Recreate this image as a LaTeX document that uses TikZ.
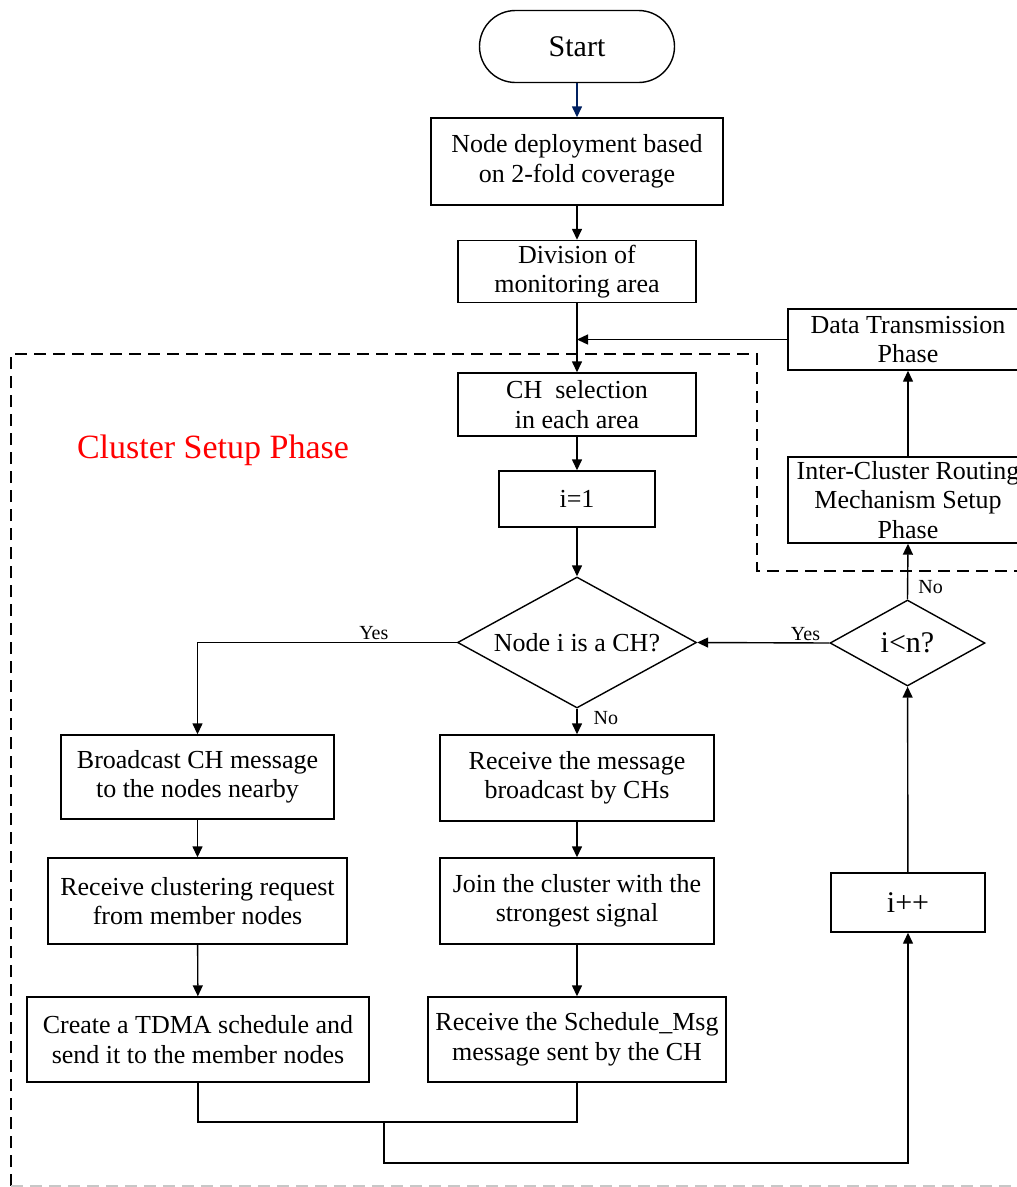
\documentclass[tikz,border=0pt]{standalone}
\usepackage{fontspec}
\setmainfont{Liberation Serif}
\usetikzlibrary{arrows.meta, shapes.geometric}
\definecolor{navy}{RGB}{0,32,96}
\tikzstyle{box}=[draw, line width=1.4pt, align=center, inner sep=2pt,
                 font=\fontsize{26}{29.5}\selectfont]
\tikzstyle{startbox}=[box, rounded corners=36pt, minimum width=195pt,
                 minimum height=72pt, font=\fontsize{30}{34}\selectfont]
\tikzstyle{dec}=[draw, diamond, aspect=1.8, inner sep=0pt, line width=1.4pt,
                 font=\fontsize{26}{29.5}\selectfont]
\tikzstyle{ar}=[-{Triangle[length=11pt, width=10pt]}, line width=1.4pt]
\tikzstyle{ln}=[line width=1.4pt]
\tikzstyle{lbl}=[font=\fontsize{20}{22}\selectfont, inner sep=2pt]
\tikzstyle{phaseline}=[line width=2.6pt, dash pattern=on 12pt off 7pt]

\begin{document}
\begin{tikzpicture}[x=1pt, y=-1pt]
    \useasboundingbox (0,0) rectangle (1017,1187);
    \clip (0,0) rectangle (1017,1187);
    % main column
    \node[startbox] (start) at (577,46.5) {Start};
    \node[box, minimum width=292pt, minimum height=87pt] (deploy) at (577,161.5) {Node deployment based\\on 2-fold coverage};
    \node[box, minimum width=238pt, minimum height=62pt] (divide) at (577,271.5) {Division of\\monitoring area};
    \node[box, minimum width=238pt, minimum height=63pt] (chsel) at (577,404.5) {CH\ \ selection\\in each area};
    \node[box, minimum width=156pt, minimum height=56pt] (init) at (577,499) {i=1};
    \node[dec, minimum width=239pt, minimum height=131pt] (isch) at (577,642.5) {Node i is a CH?};
    % cluster head branch
    \node[box, minimum width=273pt, minimum height=84pt] (bcast) at (197.5,777) {Broadcast CH message\\to the nodes nearby};
    \node[box, minimum width=299pt, minimum height=86pt] (recreq) at (197.5,901) {Receive clustering request\\from member nodes};
    \node[box, minimum width=342pt, minimum height=85pt] (tdma) at (198,1039.5) {Create a TDMA schedule and\\send it to the member nodes};
    % member branch
    \node[box, minimum width=274pt, minimum height=86pt] (recmsg) at (577,778) {Receive the message\\broadcast by CHs};
    \node[box, minimum width=274pt, minimum height=86pt] (join) at (577,901) {Join the cluster with the\\strongest signal};
    \node[box, minimum width=298pt, minimum height=85pt] (sched) at (577,1039.5) {Receive the Schedule\_Msg\\message sent by the CH};
    % loop column
    \node[box, minimum width=154pt, minimum height=59pt, font=\fontsize{30}{34}\selectfont] (incr) at (908,902.5) {i++};
    \node[dec, minimum width=155pt, minimum height=86pt, font=\fontsize{30}{34}\selectfont] (iltn) at (907.5,643) {i<n?};
    \node[box, minimum width=240pt, minimum height=86pt] (route) at (908,500) {Inter-Cluster Routing\\Mechanism Setup\\Phase};
    \node[box, minimum width=240pt, minimum height=61pt] (datatx) at (908,339.5) {Data Transmission\\Phase};
    \node[font=\fontsize{34}{38}\selectfont, text=red] (phase) at (213,450) {Cluster Setup Phase};
    \coordinate (mergeA) at (384,1122);
    \coordinate (mergeB) at (384,1163);
    % connectors
    \draw[ar, navy] (start)--(deploy);
    \draw[ar] (deploy)--(divide);
    \draw[ar] (divide)--(chsel);
    \draw[ar] (datatx.west)--(divide.south |- datatx.west);
    \draw[ar] (chsel)--(init);
    \draw[ar] (init)--(isch);
    \draw[ar] (isch.west) -| node[lbl, above, pos=0.16] {Yes} (bcast.north);
    \draw[ar] (isch.south)-- node[lbl, right, pos=0.37, xshift=14pt] {No} (recmsg.north);
    \draw[ar] (bcast)--(recreq);
    \draw[ar] (recreq)--(tdma);
    \draw[ar] (recmsg)--(join);
    \draw[ar] (join)--(sched);
    \draw[ln] (tdma.south) |- (mergeA) -| (sched.south);
    \draw[ar] (mergeA)--(mergeB) -| (incr.south);
    \draw[ar] (incr)--(iltn);
    \draw[ar] (iltn.west)-- node[lbl, above, pos=0.18] {Yes} (isch.east);
    \draw[ar] (iltn.north)-- node[lbl, right, pos=0.22, xshift=8pt] {No} (route.south);
    \draw[ar] (route)--(datatx);
    % phase boundary
    \draw[phaseline] (11,1186)--(11,354)--(757,354)--(757,571)--(1017,571);
    \draw[phaseline, black!22, line width=1.8pt] (11,1186)--(1017,1186);
  \end{tikzpicture}
\end{document}
